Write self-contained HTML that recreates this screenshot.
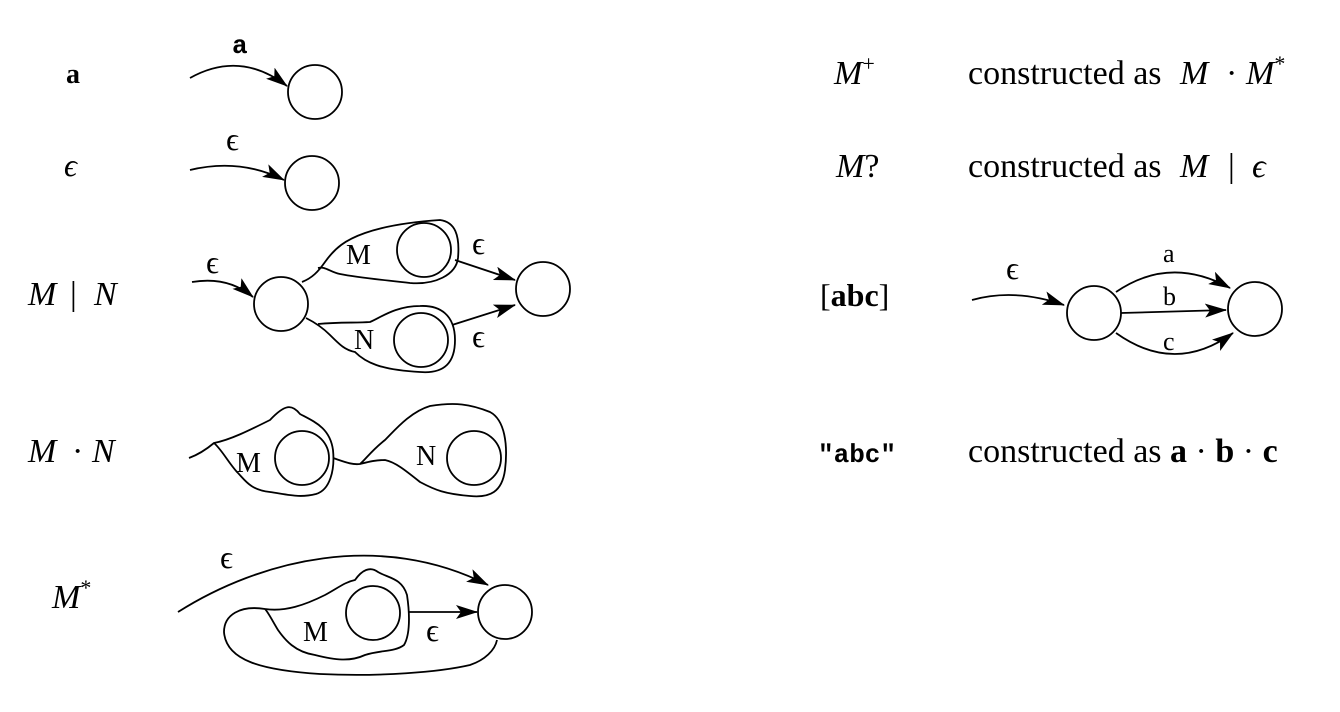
<!DOCTYPE html>
<html><head><meta charset="utf-8"><style>
html,body{margin:0;padding:0;background:#fff;}
svg{display:block;}
text{font-family:"Liberation Serif",serif;fill:#000;}
.m{font-family:"Liberation Mono",monospace;font-weight:bold;}
</style></head><body>
<svg width="1340" height="712" viewBox="0 0 1340 712" xmlns="http://www.w3.org/2000/svg">
<defs>
<marker id="ah" markerWidth="22" markerHeight="14" refX="21" refY="7" orient="auto" markerUnits="userSpaceOnUse">
<path d="M0,0 L22,7 L0,14 L5,7 Z" fill="#000"/></marker>
</defs>
<g fill="none" stroke="#000" stroke-width="1.8">
<path d="M190,78 Q240,50 287,86" marker-end="url(#ah)"/>
<circle cx="315" cy="92" r="27"/>
<path d="M190,170 Q240,158 284,180" marker-end="url(#ah)"/>
<circle cx="312" cy="183" r="27"/>
<path d="M192,282 Q228,276 253,297" marker-end="url(#ah)"/>
<circle cx="281" cy="304" r="27"/>
<path d="M302,282 C312,278 318,272 325,262 C335,248 345,240 365,233 C385,226 410,222 440,220 C455,222 460,235 458,258 C456,275 435,285 410,283 C385,280 360,278 340,274 C330,272 325,266 318,268"/>
<circle cx="424" cy="250" r="27"/>
<path d="M306,318 C318,324 325,330 330,335 C340,345 345,350 355,352 C365,362 380,370 420,372 C445,374 455,362 455,340 C455,315 440,305 420,306 C395,306 380,318 370,322 C355,323 340,322 318,324"/>
<circle cx="421" cy="340" r="27"/>
<path d="M455,260 L515,280" marker-end="url(#ah)"/>
<path d="M452,325 L515,305" marker-end="url(#ah)"/>
<circle cx="543" cy="289" r="27"/>
<path d="M189,458 C200,454 208,448 214,443 C230,440 250,430 270,420 C285,404 292,404 300,414 C315,422 330,428 333,450 C335,470 330,490 316,494 C300,498 290,495 270,492 C250,490 245,480 237,472 C228,462 222,450 214,443"/>
<circle cx="302" cy="458" r="27"/>
<path d="M333,458 C345,462 352,465 360,464 C365,460 372,450 385,440 C395,430 410,412 430,406 C455,402 470,404 490,412 C505,420 508,445 505,470 C502,492 490,498 470,496 C445,494 435,490 420,482 C405,470 395,462 385,460 C375,460 368,462 360,464"/>
<circle cx="474" cy="458" r="27"/>
<path d="M178,612 C260,560 380,530 488,585" marker-end="url(#ah)"/>
<path d="M265,609 C285,612 305,605 325,595 C338,588 345,582 355,580 C362,570 370,566 378,572 C388,578 402,578 407,595 C410,615 410,635 404,645 C395,652 380,650 365,655 C350,662 335,660 315,655 C295,652 285,640 278,630 C272,620 268,612 265,609 C240,605 224,615 224,632 C226,660 260,670 320,674 C380,677 440,672 470,665 C485,660 495,650 497,640"/>
<circle cx="373" cy="613" r="27"/>
<path d="M408,612 L477,612" marker-end="url(#ah)"/>
<circle cx="505" cy="612" r="27"/>
<path d="M972,300 Q1015,288 1064,305" marker-end="url(#ah)"/>
<circle cx="1094" cy="313" r="27"/>
<path d="M1116,292 Q1170,255 1230,288" marker-end="url(#ah)"/>
<path d="M1121,313 L1226,310" marker-end="url(#ah)"/>
<path d="M1116,333 Q1175,375 1233,333" marker-end="url(#ah)"/>
<circle cx="1255" cy="309" r="27"/>
</g>
<text x="66" y="83" font-size="28" font-weight="bold">a</text>
<text x="232" y="53" font-size="26" class="m">a</text>
<text x="64" y="176" font-size="32" font-style="italic">ϵ</text>
<text x="226" y="150" font-size="32">ϵ</text>
<text x="28" y="305" font-size="34" font-style="italic">M</text>
<text x="70" y="305" font-size="34">|</text>
<text x="94" y="305" font-size="34" font-style="italic">N</text>
<text x="206" y="273" font-size="32">ϵ</text>
<text x="346" y="264" font-size="28">M</text>
<text x="354" y="349" font-size="28">N</text>
<text x="472" y="254" font-size="32">ϵ</text>
<text x="472" y="347" font-size="32">ϵ</text>
<text x="28" y="462" font-size="34" font-style="italic">M</text>
<text x="72" y="462" font-size="34">·</text>
<text x="92" y="462" font-size="34" font-style="italic">N</text>
<text x="236" y="472" font-size="28">M</text>
<text x="416" y="465" font-size="28">N</text>
<text x="52" y="608" font-size="34" font-style="italic">M<tspan font-size="22" dy="-13" font-style="normal">*</tspan></text>
<text x="220" y="568" font-size="32">ϵ</text>
<text x="303" y="641" font-size="28">M</text>
<text x="426" y="641" font-size="32">ϵ</text>
<text x="834" y="84" font-size="34" font-style="italic">M<tspan font-size="22" dy="-13" font-style="normal">+</tspan></text>
<text x="968" y="84" font-size="34">constructed as</text>
<text x="1180" y="84" font-size="34" font-style="italic">M</text>
<text x="1226" y="84" font-size="34">·</text>
<text x="1246" y="84" font-size="34" font-style="italic">M<tspan font-size="22" dy="-13" font-style="normal">*</tspan></text>
<text x="836" y="177" font-size="34" font-style="italic">M<tspan font-style="normal">?</tspan></text>
<text x="968" y="177" font-size="34">constructed as</text>
<text x="1180" y="177" font-size="34" font-style="italic">M</text>
<text x="1228" y="177" font-size="34">|</text>
<text x="1252" y="177" font-size="34" font-style="italic">ϵ</text>
<text x="820" y="306" font-size="32">[<tspan font-weight="bold">abc</tspan>]</text>
<text x="1006" y="279" font-size="32">ϵ</text>
<text x="1163" y="262" font-size="26">a</text>
<text x="1163" y="305" font-size="26">b</text>
<text x="1163" y="350" font-size="26">c</text>
<text x="818" y="462" font-size="26" class="m">"abc"</text>
<text x="968" y="462" font-size="34">constructed as <tspan font-weight="bold">a</tspan> · <tspan font-weight="bold">b</tspan> · <tspan font-weight="bold">c</tspan></text>
</svg>
</body></html>
